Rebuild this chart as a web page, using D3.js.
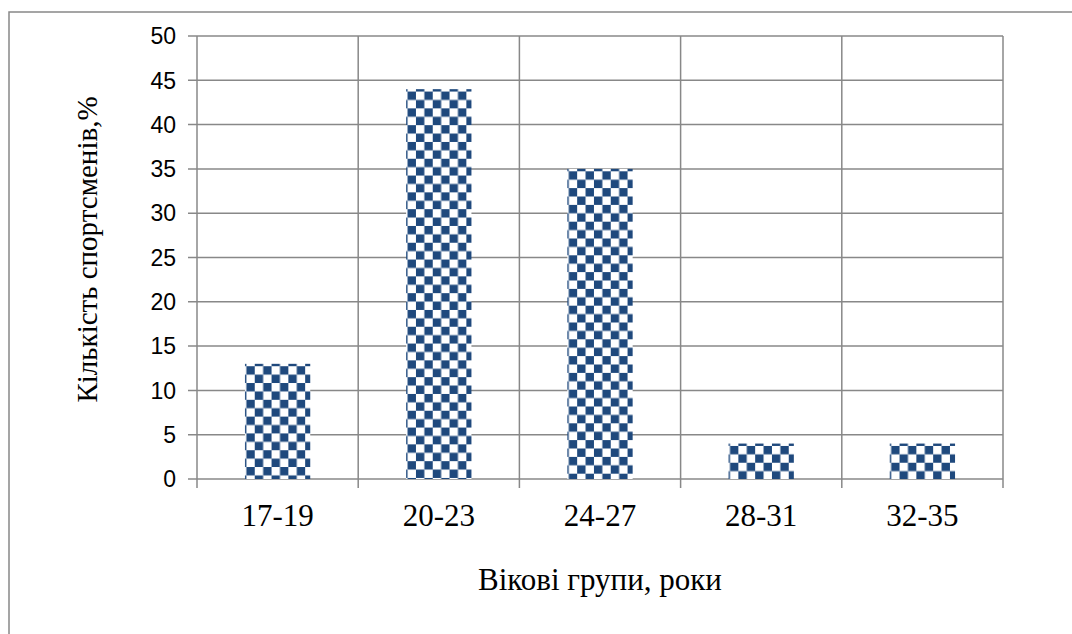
<!DOCTYPE html>
<html>
<head>
<meta charset="utf-8">
<script src="https://cdn.jsdelivr.net/npm/d3@7"></script>
<style>
	body { margin: 0; background: #fff; }
	svg { display: block; }
	.axis-num { font-family: "Liberation Sans", Arial, sans-serif; font-size: 23px; fill: #000; }
	.axis-cat { font-family: "Liberation Serif", "Times New Roman", serif; font-size: 31px; fill: #000; }
	.axis-title { font-family: "Liberation Serif", "Times New Roman", serif; font-size: 31px; fill: #000; }
	.axis-title-y { font-family: "Liberation Serif", "Times New Roman", serif; font-size: 29px; fill: #000; }
</style>
</head>
<body>
<div id="graphic"></div>
<script>
// data
const categories = ['17-19', '20-23', '24-27', '28-31', '32-35'];
const values = [13, 44, 35, 4, 4];
const yTicks = [0, 5, 10, 15, 20, 25, 30, 35, 40, 45, 50];
const xTitle = 'Вікові групи, роки';
const yTitle = 'Кількість спортсменів,%';

const width = 1072, height = 634;
const margin = { top: 36, right: 69, bottom: 155, left: 197 };
const chartWidth = width - margin.left - margin.right;
const chartHeight = height - margin.top - margin.bottom;
const gridColour = '#888888';
const barColour = '#1f497d';
const cell = 8.4;

const svg = d3.select('#graphic')
	.append('svg')
	.attr('width', width)
	.attr('height', height);

// outer chart border (only top and left show in the frame)
svg.append('path')
	.attr('d', `M9,${height} V12 H${width}`)
	.attr('fill', 'none')
	.attr('stroke', gridColour)
	.attr('stroke-width', 1.5);

const g = svg.append('g')
	.attr('transform', `translate(${margin.left},${margin.top})`);

const x = d3.scaleBand()
	.domain(categories)
	.range([0, chartWidth])
	.paddingInner(0)
	.paddingOuter(0);

const y = d3.scaleLinear()
	.domain([0, 50])
	.range([chartHeight, 0]);

const barWidth = x.bandwidth() * 0.405;

// horizontal grid
g.append('g')
	.selectAll('line')
	.data(yTicks)
	.join('line')
	.attr('x1', -9)
	.attr('x2', chartWidth)
	.attr('y1', d => y(d))
	.attr('y2', d => y(d))
	.attr('stroke', gridColour)
	.attr('stroke-width', 1.5);

// vertical grid at category boundaries
const bounds = categories.map(c => x(c)).concat([chartWidth]);
g.append('g')
	.selectAll('line')
	.data(bounds)
	.join('line')
	.attr('x1', d => d)
	.attr('x2', d => d)
	.attr('y1', 0)
	.attr('y2', chartHeight + 9)
	.attr('stroke', gridColour)
	.attr('stroke-width', 1.5);

// checkerboard pattern, one per bar so it starts at the bar top
const defs = svg.append('defs');
categories.forEach((c, i) => {
	const px = margin.left + x(c) + (x.bandwidth() - barWidth) / 2 - 2.4;
	const py = margin.top + y(values[i]);
	const p = defs.append('pattern')
		.attr('id', 'checker' + i)
		.attr('patternUnits', 'userSpaceOnUse')
		.attr('x', px)
		.attr('y', py)
		.attr('width', cell * 2)
		.attr('height', cell * 2);
	p.append('rect').attr('width', cell * 2).attr('height', cell * 2).attr('fill', '#fff');
	p.append('rect').attr('x', cell).attr('y', 0).attr('width', cell).attr('height', cell).attr('fill', barColour);
	p.append('rect').attr('x', 0).attr('y', cell).attr('width', cell).attr('height', cell).attr('fill', barColour);
});

// bars
g.append('g')
	.selectAll('rect')
	.data(categories)
	.join('rect')
	.attr('x', d => x(d) + (x.bandwidth() - barWidth) / 2)
	.attr('width', barWidth)
	.attr('y', (d, i) => y(values[i]))
	.attr('height', (d, i) => chartHeight - y(values[i]))
	.attr('fill', (d, i) => `url(#checker${i})`);

// y tick labels
g.append('g')
	.selectAll('text')
	.data(yTicks)
	.join('text')
	.attr('class', 'axis-num')
	.attr('x', -21)
	.attr('y', d => y(d))
	.attr('dy', '0.36em')
	.attr('text-anchor', 'end')
	.text(d => d);

// x tick labels
g.append('g')
	.selectAll('text')
	.data(categories)
	.join('text')
	.attr('class', 'axis-cat')
	.attr('x', d => x(d) + x.bandwidth() / 2)
	.attr('y', chartHeight + 47)
	.attr('text-anchor', 'middle')
	.text(d => d);

// axis titles
g.append('text')
	.attr('class', 'axis-title')
	.attr('x', chartWidth / 2)
	.attr('y', chartHeight + 111)
	.attr('text-anchor', 'middle')
	.text(xTitle);

g.append('text')
	.attr('class', 'axis-title-y')
	.attr('transform', `translate(${-100},${chartHeight / 2 - 8}) rotate(-90)`)
	.attr('text-anchor', 'middle')
	.text(yTitle);
</script>
</body>
</html>
